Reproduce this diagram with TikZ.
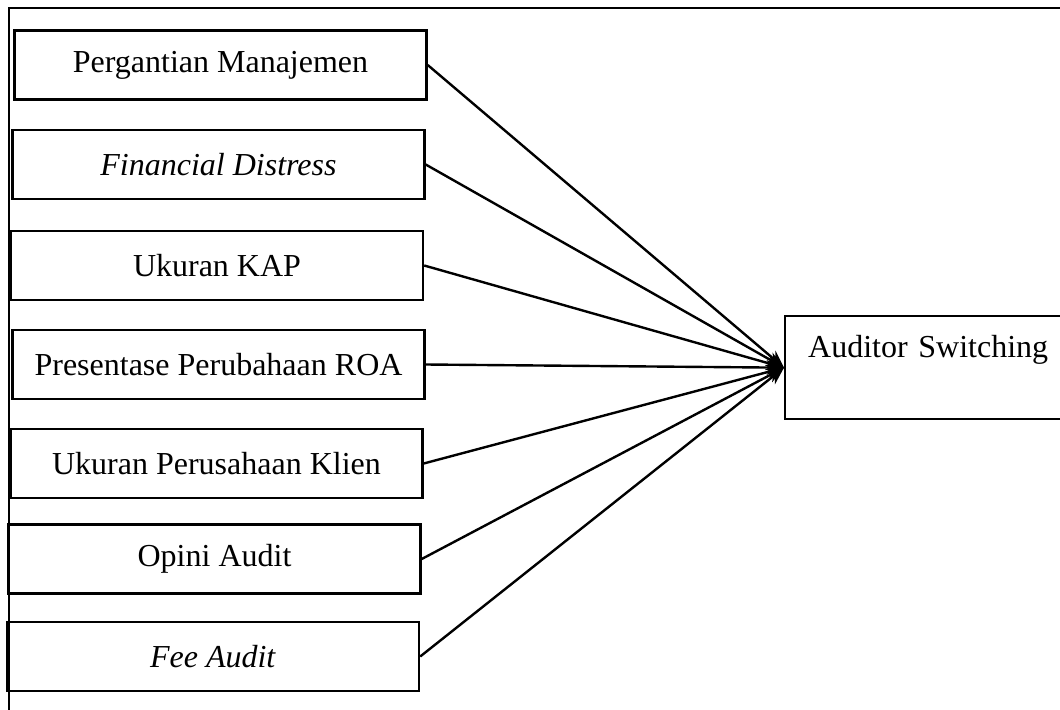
\documentclass[tikz,border=0pt]{standalone}
\usepackage{fontspec}
\setmainfont{Liberation Serif}
\usetikzlibrary{arrows.meta, positioning}

\begin{document}
\begin{tikzpicture}[x=0.375pt, y=-0.375pt,
    font=\fontsize{12}{14}\selectfont,
    box/.style={rectangle, draw, line width=0.9pt, minimum width=154.5pt, minimum height=25.9pt, inner sep=0pt},
    target/.style={rectangle, draw, line width=0.9pt, minimum height=38.6pt, text width=92pt, inner xsep=8.6pt, inner ysep=0pt, text height=15.4pt, text depth=23.2pt, align=left},
    arrow/.style={-{Stealth[length=6.5pt, width=5.5pt]}, line width=0.9pt}
]
\useasboundingbox (0,0) rectangle (1060,709);

% frame
\draw[line width=0.9pt] (1070,8) -| (9,720);

% variables
\node[box] (mgmt) at (220.5,65) {Pergantian Manajemen};
\node[box] (distress) at (218.5,164.5) {\textit{Financial Distress}};
\node[box] (kap) at (217,265.5) {Ukuran KAP};
\node[box] (roa) at (218.5,364.5) {Presentase Perubahaan ROA};
\node[box] (klien) at (216.5,463.5) {Ukuran Perusahaan Klien};
\node[box] (opini) at (214.5,559) {Opini Audit};
\node[box] (fee) at (213,656.5) {\textit{Fee Audit}};

\node[target, anchor=north west] (switch) at (784,315) {Auditor Switching};

\foreach \src in {mgmt, distress, kap, roa, klien, opini, fee}
    \draw[arrow] (\src.east) -- (switch.west);

\end{tikzpicture}
\end{document}
